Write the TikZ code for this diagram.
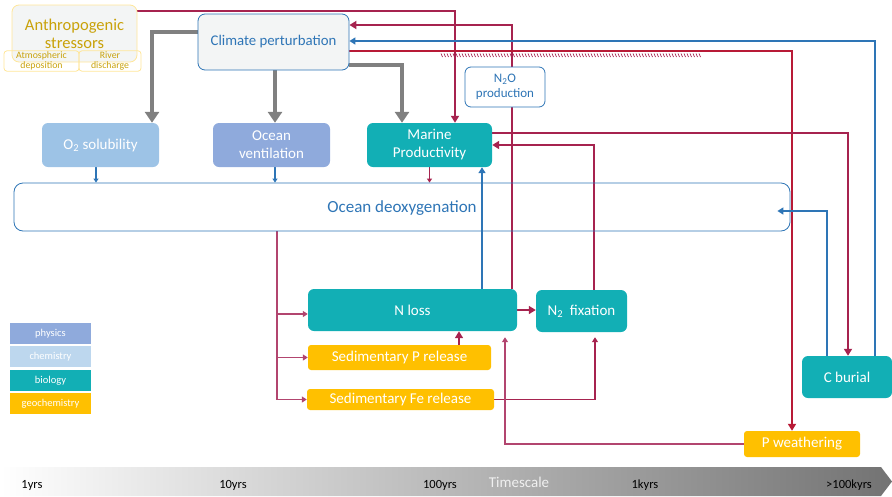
\documentclass[tikz,border=0pt]{standalone}
\usepackage{fontspec}
\setmainfont{Carlito}
\usetikzlibrary{arrows.meta,backgrounds}
\definecolor{tealc}{HTML}{12AFB5}
\definecolor{orangec}{HTML}{FFC000}
\definecolor{physc}{HTML}{8FAADC}
\definecolor{chemc}{HTML}{BDD7EE}
\definecolor{solc}{HTML}{9DC3E6}
\definecolor{bluec}{HTML}{2E75B6}
\definecolor{crimc}{HTML}{A6234F}
\definecolor{crimlc}{HTML}{B2456F}
\definecolor{redc}{HTML}{B81A36}
\definecolor{grayc}{HTML}{808080}
\definecolor{goldc}{HTML}{C9A20A}
\definecolor{yelbc}{HTML}{FFE699}
\definecolor{palec}{HTML}{F3F5F5}
\begin{document}
\begin{tikzpicture}[x=1pt,y=-1pt,
  every node/.style={inner sep=1pt},
  procbox/.style={rounded corners=6pt, draw=none, text=white, align=center, font=\fontsize{15}{18}\selectfont},
  tealbox/.style={procbox, fill=tealc},
  orbox/.style={procbox, fill=orangec, rounded corners=3pt},
  legbox/.style={fill=#1, text=white, font=\fontsize{10.5}{12}\selectfont, minimum width=81pt, minimum height=21pt},
  grayarr/.style={draw=grayc, line width=4pt, -{Triangle[width=14pt,length=11pt]}},
  crimarr/.style={draw=crimc, line width=2pt, -{Triangle[width=8pt,length=7pt]}},
  crimthin/.style={draw=crimlc, line width=1.3pt, -{Triangle[width=6pt,length=5pt]}},
  bluearr/.style={draw=bluec, line width=1.6pt, -{Triangle[width=7pt,length=6pt]}},
  smallarr/.style={line width=1.4pt, -{Triangle[width=5pt,length=4pt]}},
  ticklab/.style={font=\fontsize{12.5}{14}\selectfont, text=black}
]
\useasboundingbox (0,0) rectangle (892,496);

% timescale bar
\shade[left color=white, right color=black!55] (0,467) -- (881,467) -- (892,481.5) -- (881,496) -- (0,496) -- cycle;
\node[ticklab] (t1) at (32,485) {1yrs};
\node[ticklab] (t2) at (233,485) {10yrs};
\node[ticklab] (t3) at (440,485) {100yrs};
\node[font=\fontsize{15}{17}\selectfont, text=white!94!black] (ts) at (519,482) {Timescale};
\node[ticklab] (t4) at (645,485) {1kyrs};
\node[ticklab] (t5) at (849,485) {>100kyrs};

% nodes
\node[rounded corners=7pt, draw=yelbc, fill=palec, line width=0.8pt, minimum width=125pt, minimum height=57pt, text=goldc, align=center, font=\fontsize{16.5}{18}\selectfont] (anth) at (74.5,33.5) {Anthropogenic\\stressors};
\node[rounded corners=3pt, draw=yelbc, line width=0.8pt, minimum width=75pt, minimum height=20pt, text=goldc, align=center, font=\fontsize{9.8}{10}\selectfont] (atm) at (41.5,61) {Atmospheric\\deposition};
\node[rounded corners=3pt, draw=yelbc, line width=0.8pt, minimum width=62pt, minimum height=20pt, text=goldc, align=center, font=\fontsize{9.8}{10}\selectfont] (riv) at (110,61) {River\\discharge};
\node[rounded corners=7pt, draw=bluec, fill=palec, line width=0.8pt, minimum width=151pt, minimum height=56pt, text=bluec, font=\fontsize{14.8}{17}\selectfont] (clim) at (273.5,42) {Climate perturbation};
\node[rounded corners=6pt, draw=bluec, fill=white, line width=0.8pt, minimum width=80pt, minimum height=40pt, text=bluec, align=center, font=\fontsize{13}{15}\selectfont] (n2o) at (505,87) {N\textsubscript{2}O\\production};
\node[procbox, fill=solc, minimum width=117pt, minimum height=44pt] (o2) at (100.5,145) {O\textsubscript{2} solubility};
\node[procbox, fill=physc, minimum width=117pt, minimum height=44pt] (vent) at (271.5,145) {Ocean\\ventilation};
\node[tealbox, minimum width=125pt, minimum height=44pt] (prod) at (429.5,145) {Marine\\Productivity};
\node[rounded corners=9pt, draw=bluec, line width=0.8pt, minimum width=776pt, minimum height=48pt] (deox) at (402,207) {};
\node[text=bluec, font=\fontsize{17}{20}\selectfont] (deoxl) at (402,208) {Ocean deoxygenation};
\node[tealbox, minimum width=209pt, minimum height=42pt] (nloss) at (412.5,310) {N loss};
\node[tealbox, minimum width=91pt, minimum height=42pt] (nfix) at (581.5,311) {N\textsubscript{2}\ \ fixation};
\node[orbox, minimum width=183pt, minimum height=25pt] (sedp) at (399.5,357.5) {Sedimentary P release};
\node[orbox, minimum width=187pt, minimum height=21pt] (sedfe) at (400.5,399.5) {Sedimentary Fe release};
\node[tealbox, minimum width=90pt, minimum height=42pt] (cbur) at (847,377) {C burial};
\node[orbox, minimum width=116pt, minimum height=26pt] (pw) at (802,444) {P weathering};

% legend
\node[legbox=physc] (lphys) at (50.5,333.5) {physics};
\node[legbox=chemc] (lchem) at (50.5,356.5) {chemistry};
\node[legbox=tealc] (lbio) at (50.5,380.5) {biology};
\node[legbox=orangec] (lgeo) at (50.5,403.5) {geochemistry};

\begin{scope}[on background layer]
% gray arrows
\draw[grayarr] ([yshift=10pt]clim.west) -| ([xshift=51.5pt]o2.north);
\draw[grayarr] ([xshift=1.5pt]clim.south) -- ([xshift=3.5pt]vent.north);
\draw[grayarr] ([yshift=-23pt]clim.east) -| ([xshift=-27.5pt]prod.north);
% crimson feedbacks
\draw[crimarr] ([yshift=-6pt]anth.north east) -| ([xshift=25.5pt]prod.north);
\draw[crimarr] ([xshift=99.5pt]nloss.north) |- ([yshift=17pt]clim.east);
\draw[bluearr, line width=2pt] ([xshift=28pt]cbur.north) |- ([yshift=1pt]clim.east);
\draw[crimarr, draw=redc] ([yshift=-9pt]clim.east) -| ([xshift=-10pt]pw.north);
\draw[crimarr] ([yshift=12pt]prod.east) -| ([xshift=1pt]cbur.north);
\draw[crimarr] ([xshift=12.5pt]nfix.north) |- (prod.east);
\coordinate (nl1) at ([xshift=69.5pt]nloss.north);
\draw[bluearr] (nl1) -- (nl1 |- prod.south);
\draw[smallarr, draw=crimc] (prod.south) -- (prod.south |- deox.north);
\draw[smallarr, draw=bluec] ([xshift=-4.5pt]o2.south) -- ([xshift=-4.5pt]o2.south |- deox.north);
\draw[smallarr, draw=bluec] ([xshift=3.5pt]vent.south) -- ([xshift=3.5pt]vent.south |- deox.north);
\draw[bluearr] ([xshift=-20pt]cbur.north) |- ([xshift=-13pt,yshift=-4pt]deox.east);
% sediment branch
\coordinate (br) at ([xshift=-125pt]deox.south);
\draw[crimthin] (br) |- (sedfe.west);
\draw[crimthin] (br |- 0,314) -- ([yshift=-4pt]nloss.west);
\draw[crimthin] (br |- sedp.west) -- (sedp.west);
\coordinate (sp) at ([xshift=59.5pt]sedp.north);
\draw[crimarr, line width=1.6pt] (sp) -- (sp |- nloss.south);
\draw[crimarr, line width=1.6pt] (nloss.east) -- (nloss.east -| nfix.west);
\draw[crimthin, draw=crimc] (sedfe.east) -| ([xshift=13.5pt,yshift=-5pt]nfix.south);
\draw[crimthin] (pw.west) -| ([xshift=92.5pt,yshift=-6pt]nloss.south);
\end{scope}

% hatched marks
\foreach \i in {0,...,86} {
  \draw[crimc, line width=0.7pt] (441+3*\i,53.5) -- (442.5+3*\i,57);
}
\end{tikzpicture}
\end{document}
